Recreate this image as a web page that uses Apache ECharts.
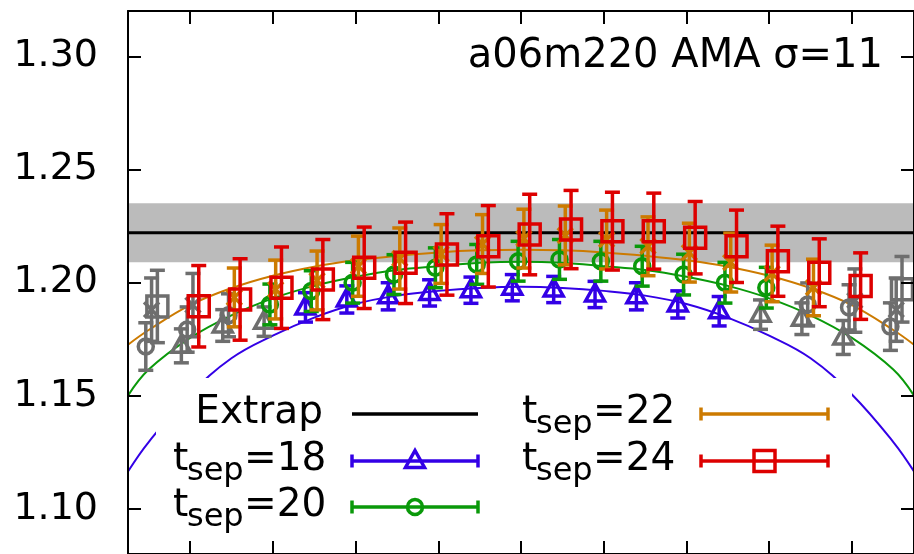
<!DOCTYPE html>
<html>
<head>
<meta charset="utf-8">
<script src="https://cdn.jsdelivr.net/npm/echarts@6/dist/echarts.min.js"></script>
<style>
  html, body { margin: 0; padding: 0; background: #fff; }
  #chart { width: 914px; height: 554px; }
</style>
</head>
<body>
<div id="chart"></div>
<script>
// x axis is tau - tsep/2
const xMin = -9.5, xMax = 9.5;
const yMin = 1.08, yMax = 1.32;
const xTicks = [-8, -6, -4, -2, 0, 2, 4, 6, 8];
const yTicks = [1.10, 1.15, 1.20, 1.25, 1.30];

const extrapValue = 1.222;
const extrapError = 0.013;

// points used in the fit
const t18X = [-5, -4, -3, -2, -1, 0, 1, 2, 3, 4, 5];
const t18Y = [1.1890, 1.1925, 1.1939, 1.1954, 1.1966, 1.1977, 1.1969, 1.1947, 1.1939, 1.1903, 1.1873];
const t18Err = [0.0065, 0.006, 0.006, 0.0058, 0.0058, 0.0058, 0.0058, 0.0058, 0.006, 0.006, 0.0065];

const t20X = [-6, -5, -4, -3, -2, -1, 0, 1, 2, 3, 4, 5, 6];
const t20Y = [1.1903, 1.1962, 1.1999, 1.2035, 1.2065, 1.2080, 1.2094, 1.2102, 1.2094, 1.2072, 1.2035, 1.1999, 1.1977];
const t20Err = [0.009, 0.009, 0.009, 0.0088, 0.0088, 0.0088, 0.0088, 0.0088, 0.0088, 0.0088, 0.009, 0.009, 0.009];

const t22X = [-7, -6, -5, -4, -3, -2, -1, 0, 1, 2, 3, 4, 5, 6, 7];
const t22Y = [1.1934, 1.1969, 1.2009, 1.2072, 1.2106, 1.2126, 1.2170, 1.2194, 1.2208, 1.2190, 1.2160, 1.2132, 1.2088, 1.2040, 1.1978];
const t22Err = [0.013, 0.013, 0.013, 0.0133, 0.0135, 0.013, 0.013, 0.013, 0.013, 0.013, 0.013, 0.013, 0.013, 0.0125, 0.0125];

const t24X = [-8, -7, -6, -5, -4, -3, -2, -1, 0, 1, 2, 3, 4, 5, 6, 7, 8];
const t24Y = [1.1895, 1.1925, 1.1977, 1.2013, 1.2065, 1.2087, 1.2124, 1.2160, 1.2212, 1.2234, 1.2227, 1.2227, 1.2198, 1.2160, 1.2094, 1.2043, 1.1984];
const t24Err = [0.018, 0.018, 0.018, 0.0177, 0.018, 0.018, 0.018, 0.018, 0.0178, 0.0173, 0.0172, 0.0168, 0.016, 0.016, 0.0155, 0.015, 0.0147];

// points left out of the fit (grey)
const grey18X = [-8, -7, -6, 6, 7, 8];
const grey18Y = [1.1720, 1.1810, 1.1827, 1.1858, 1.1840, 1.1757];
const grey18Err = [0.0075, 0.007, 0.0065, 0.0065, 0.007, 0.0075];
const grey20X = [-9, -8, -7, 7, 8, 9];
const grey20Y = [1.1717, 1.1792, 1.1855, 1.1903, 1.1890, 1.1805];
const grey20Err = [0.0105, 0.010, 0.0095, 0.0095, 0.010, 0.0105];
const grey22X = [-9, -8, 8, 9];
const grey22Y = [1.1880, 1.1900, 1.1920, 1.1880];
const grey22Err = [0.014, 0.014, 0.014, 0.014];
const grey24X = [-9, 9];
const grey24Y = [1.1894, 1.1970];
const grey24Err = [0.016, 0.0145];

// fit curves
const curveX = [-9.5, -9, -8, -7, -6, -5, -4, -3, -2, -1, 0, 1, 2, 3, 4, 5, 6, 7, 8, 9, 9.5];
const fit18 = [1.1165, 1.1295, 1.1505, 1.1665, 1.1765, 1.1845, 1.1905, 1.1942, 1.1963, 1.1976, 1.1981, 1.1976, 1.1963, 1.1942, 1.1905, 1.1845, 1.1765, 1.1665, 1.1505, 1.1295, 1.1165];
const fit20 = [1.1500, 1.1615, 1.1755, 1.1855, 1.1930, 1.1985, 1.2025, 1.2055, 1.2072, 1.2087, 1.2092, 1.2087, 1.2072, 1.2055, 1.2025, 1.1985, 1.1930, 1.1855, 1.1755, 1.1615, 1.1500];
const fit22 = [1.1725, 1.1790, 1.1900, 1.1975, 1.2030, 1.2070, 1.2098, 1.2118, 1.2133, 1.2142, 1.2145, 1.2142, 1.2133, 1.2118, 1.2098, 1.2070, 1.2030, 1.1975, 1.1900, 1.1790, 1.1725];

const BLUE = '#3300e6', GREEN = '#0a990a', ORANGE = '#cc7a00', RED = '#dd0000', GREY = '#6e6e6e';
const FONT = 'DejaVu Sans';
const LW = 3.5;

function stroke(color) {
  return { stroke: color, lineWidth: LW, fill: 'none' };
}

function marker(kind, cx, cy, color) {
  if (kind === 'triangle') {
    return { type: 'polygon', shape: { points: [[cx, cy - 10.5], [cx - 9.5, cy + 6.5], [cx + 9.5, cy + 6.5]] }, style: stroke(color) };
  }
  if (kind === 'circle') {
    return { type: 'circle', shape: { cx: cx, cy: cy, r: 7.5 }, style: stroke(color) };
  }
  if (kind === 'square') {
    return { type: 'rect', shape: { x: cx - 10.5, y: cy - 10.5, width: 21, height: 21 }, style: stroke(color) };
  }
  return {
    type: 'group',
    children: [
      { type: 'line', shape: { x1: cx - 7.5, y1: cy - 7.5, x2: cx + 7.5, y2: cy + 7.5 }, style: stroke(color) },
      { type: 'line', shape: { x1: cx - 7.5, y1: cy + 7.5, x2: cx + 7.5, y2: cy - 7.5 }, style: stroke(color) }
    ]
  };
}

function errorSeries(xs, ys, es, offset, color, kind, z) {
  return {
    type: 'custom',
    z: z,
    clip: true,
    data: xs.map((x, i) => [x + offset, ys[i], es[i]]),
    renderItem: function (params, api) {
      const x = api.value(0), y = api.value(1), e = api.value(2);
      const c = api.coord([x, y]);
      const hi = api.coord([x, y + e]);
      const lo = api.coord([x, y - e]);
      const cap = 7.5;
      return {
        type: 'group',
        children: [
          { type: 'line', shape: { x1: c[0], y1: hi[1], x2: c[0], y2: lo[1] }, style: stroke(color) },
          { type: 'line', shape: { x1: c[0] - cap, y1: hi[1], x2: c[0] + cap, y2: hi[1] }, style: stroke(color) },
          { type: 'line', shape: { x1: c[0] - cap, y1: lo[1], x2: c[0] + cap, y2: lo[1] }, style: stroke(color) },
          marker(kind, c[0], c[1], color)
        ]
      };
    }
  };
}

function fitSeries(ys, color) {
  return {
    type: 'line',
    z: 2,
    data: curveX.map((x, i) => [x, ys[i]]),
    showSymbol: false,
    smooth: 0.4,
    lineStyle: { color: color, width: 2 },
    silent: true
  };
}

// key drawn as graphic (white box over the curves, like gnuplot's opaque key)
function keyText(x, y, text, size, align) {
  return {
    type: 'text', x: x, y: y, z: 60,
    style: { text: text, fontSize: size, fontFamily: FONT, fill: '#000',
      align: align, verticalAlign: 'middle', textAlign: align, textVerticalAlign: 'middle' }
  };
}
function keyTsep(x, lineY, num) {
  return [
    keyText(x, lineY - 1.5, 't', 39, 'left'),
    keyText(x + 14, lineY + 11, 'sep', 32, 'left'),
    keyText(x + 71, lineY - 1.5, '=' + num, 39, 'left')
  ];
}
function keySample(x1, x2, y, color, kind) {
  const els = [
    { type: 'line', z: 60, shape: { x1: x1, y1: y, x2: x2, y2: y }, style: stroke(color) }
  ];
  if (kind) {
    els.push({ type: 'line', z: 60, shape: { x1: x1, y1: y - 6.5, x2: x1, y2: y + 6.5 }, style: stroke(color) });
    els.push({ type: 'line', z: 60, shape: { x1: x2, y1: y - 6.5, x2: x2, y2: y + 6.5 }, style: stroke(color) });
    const m = marker(kind, (x1 + x2) / 2, y, color);
    m.z = 60;
    els.push(m);
  }
  return els;
}

const graphic = [
  { type: 'rect', z: 50, shape: { x: 156, y: 378, width: 696, height: 200 }, style: { fill: '#fff' } },
  keyText(883, 57, 'a06m220 AMA σ=11', 40, 'right'),
  keyText(323, 412.5, 'Extrap', 39, 'right'),
  ...keyTsep(173, 461, '18'),
  ...keyTsep(173, 507, '20'),
  ...keyTsep(522, 414, '22'),
  ...keyTsep(522, 461, '24'),
  ...keySample(352, 478, 414, '#000', null),
  ...keySample(352, 478, 461, BLUE, 'triangle'),
  ...keySample(352, 478, 507, GREEN, 'circle'),
  ...keySample(701, 828, 414, ORANGE, 'cross'),
  ...keySample(701, 828, 461, RED, 'square')
];

const axisLine = { show: true, onZero: false, lineStyle: { color: '#000', width: 2 } };
const axisTick = (vals) => ({ show: true, inside: true, length: 13, customValues: vals, lineStyle: { color: '#000', width: 2 } });

const chart = echarts.init(document.getElementById('chart'), null, { renderer: 'canvas' });
chart.setOption({
  animation: false,
  backgroundColor: '#fff',
  grid: { left: 128, top: 11, right: -6, bottom: -1, containLabel: false },
  xAxis: [
    { type: 'value', position: 'bottom', min: xMin, max: xMax, z: 100,
      axisLine: axisLine, axisTick: axisTick(xTicks), axisLabel: { show: false }, splitLine: { show: false } },
    { type: 'value', position: 'top', min: xMin, max: xMax, z: 100,
      axisLine: axisLine, axisTick: axisTick(xTicks), axisLabel: { show: false }, splitLine: { show: false } }
  ],
  yAxis: [
    { type: 'value', position: 'left', min: yMin, max: yMax, z: 100,
      axisLine: axisLine, axisTick: axisTick(yTicks), splitLine: { show: false },
      axisLabel: { show: true, customValues: yTicks, margin: 30, color: '#000', fontSize: 38, fontFamily: FONT,
        formatter: (v) => v.toFixed(2) } },
    { type: 'value', position: 'right', min: yMin, max: yMax, z: 100,
      axisLine: axisLine, axisTick: axisTick(yTicks), axisLabel: { show: false }, splitLine: { show: false } }
  ],
  series: [
    {
      type: 'custom', z: 1, clip: true,
      data: [[extrapValue, extrapError]],
      renderItem: function (params, api) {
        const v = api.value(0), e = api.value(1);
        const a = api.coord([xMin, v + e]);
        const b = api.coord([xMax, v - e]);
        const m1 = api.coord([xMin, v]);
        const m2 = api.coord([xMax, v]);
        return {
          type: 'group',
          children: [
            { type: 'rect', shape: { x: a[0], y: a[1], width: b[0] - a[0], height: b[1] - a[1] }, style: { fill: '#bbbbbb' } },
            { type: 'line', shape: { x1: m1[0], y1: m1[1], x2: m2[0], y2: m2[1] }, style: { stroke: '#000', lineWidth: 3 } }
          ]
        };
      }
    },
    fitSeries(fit22, ORANGE),
    fitSeries(fit20, GREEN),
    fitSeries(fit18, BLUE),
    errorSeries(grey18X, grey18Y, grey18Err, -0.21, GREY, 'triangle', 3),
    errorSeries(grey20X, grey20Y, grey20Err, -0.07, GREY, 'circle', 3),
    errorSeries(grey22X, grey22Y, grey22Err, 0.07, GREY, 'cross', 3),
    errorSeries(grey24X, grey24Y, grey24Err, 0.21, GREY, 'square', 3),
    errorSeries(t18X, t18Y, t18Err, -0.21, BLUE, 'triangle', 4),
    errorSeries(t20X, t20Y, t20Err, -0.07, GREEN, 'circle', 4),
    errorSeries(t22X, t22Y, t22Err, 0.07, ORANGE, 'cross', 4),
    errorSeries(t24X, t24Y, t24Err, 0.21, RED, 'square', 4)
  ],
  graphic: graphic
});
</script>
</body>
</html>
